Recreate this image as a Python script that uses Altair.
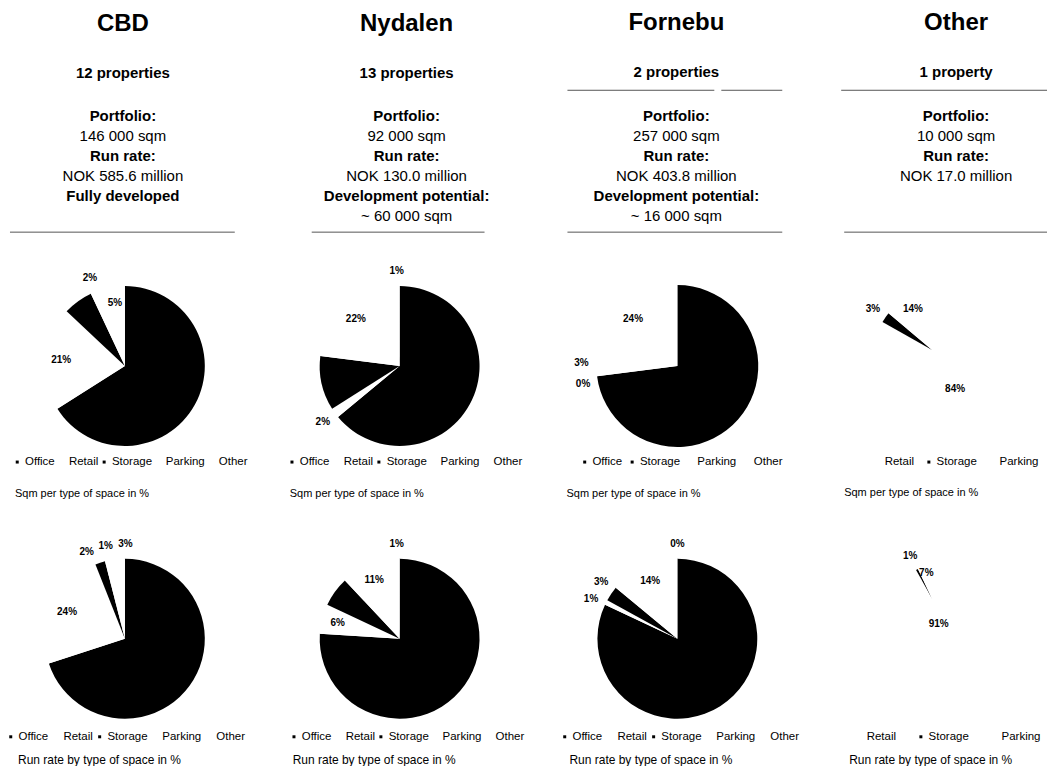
import altair as alt
import pandas as pd

FONT = "Liberation Sans"

# ---------------- data ----------------
regions = ["CBD", "Nydalen", "Fornebu", "Other"]
property_counts = ["12 properties", "13 properties", "2 properties", "1 property"]
portfolio_sqm = ["146 000 sqm", "92 000 sqm", "257 000 sqm", "10 000 sqm"]
run_rates = ["NOK 585.6 million", "NOK 130.0 million", "NOK 403.8 million", "NOK 17.0 million"]
development_heads = ["Fully developed", "Development potential:", "Development potential:", ""]
development_values = ["", "~ 60 000 sqm", "~ 16 000 sqm", ""]

sqm_categories = [
    ["Office", "Retail", "Storage", "Parking", "Other"],
    ["Office", "Retail", "Storage", "Parking", "Other"],
    ["Office", "Storage", "Parking", "Other"],
    ["Retail", "Storage", "Parking"],
]
sqm_shares = [
    [66, 21, 6, 2, 5],
    [64, 2, 11, 22, 1],
    [73, 0, 3, 24],
    [84, 3, 14],
]
run_categories = [
    ["Office", "Retail", "Storage", "Parking", "Other"],
    ["Office", "Retail", "Storage", "Parking", "Other"],
    ["Office", "Retail", "Storage", "Parking", "Other"],
    ["Retail", "Storage", "Parking"],
]
run_shares = [
    [70, 24, 2, 1, 3],
    [76, 6, 6, 11, 1],
    [82, 1, 3, 14, 0],
    [91, 1, 7],
]
captions = ["Sqm per type of space in %", "Run rate by type of space in %"]

# ---------------- styling / layout ----------------
SPACE_COLORS = {"Office": "black", "Retail": "white", "Storage": "black",
                "Parking": "white", "Other": "white"}
COL_W = [240, 276, 246, 230]
HEAD_H = 99
HEAD_DX = [-2, 7, -1, 24]
HEAD_TITLE_OFFSET = [28, 28, 9.5, 9.5]
HEAD_RULES = [
    [(5.8, 5, 230)],
    [(5.8, 50, 223)],
    [(-1.3, 13, 160), (-1.3, 167, 228), (5.8, 13, 228)],
    [(-1.3, 24, 230), (5.8, 27, 230)],
]
# pie panel heights and radii (sqm, run)
PIE_H = [(244, 244), (244, 244), (244, 244), (212, 164)]
PIE_R = [(80, 80), (80, 80), (81, 80), (57, 33)]
# legend x, legend y, column padding  (sqm, run)
LEG = [
    [(6.5, 212, 0), (0, 214, 1)],
    [(24.5, 212, 0), (26.5, 214, 0)],
    [(24.5, 212, 3.5), (4.5, 214, 1)],
    [(54, 212, 9), (36, 214, 19)],
]
# caption dx, offset (sqm, run)
CAP = [
    [(10, 0), (13, -6)],
    [(28, 0), (31, -6)],
    [(12, 0), (15, -6)],
    [(27, 19.5), (32, 12)],
]
CAP_SIZE = [11, 12]
GAP = 0.21  # min angular separation of outside labels (radians)


def header_panel(i):
    lines = ["Portfolio:", portfolio_sqm[i], "Run rate:",
             run_rates[i], development_heads[i], development_values[i]]
    kinds = ["bold", "plain", "bold", "plain", "bold", "plain"]
    df = pd.DataFrame({"text": lines, "kind": kinds, "row": list(range(len(lines)))})
    y = alt.Y("row:Q", scale=alt.Scale(domain=[0, 8], range=[0, 160], nice=False), axis=None)
    base = alt.Chart(df)
    bold = base.transform_filter("datum.kind == 'bold'").mark_text(
        font=FONT, fontSize=15, fontWeight="bold", color="black", dx=HEAD_DX[i]
    ).encode(y=y, text="text:N")
    plain = base.transform_filter("datum.kind == 'plain'").mark_text(
        font=FONT, fontSize=15, color="black", dx=HEAD_DX[i]
    ).encode(y=y, text="text:N")
    layers = [bold, plain]
    one = pd.DataFrame({"k": [0]})
    for (r, a, b) in HEAD_RULES[i]:
        layers.append(
            alt.Chart(one).mark_rule(color="#555555", strokeWidth=1).encode(
                y=alt.datum(r), x=alt.value(a), x2=alt.value(b)
            )
        )
    return alt.layer(*layers).properties(
        width=COL_W[i], height=HEAD_H,
        title=alt.TitleParams(
            regions[i], subtitle=property_counts[i],
            fontSize=24, fontWeight="bold", font=FONT, color="black",
            subtitleFont=FONT, subtitleFontSize=15, subtitleFontWeight="bold",
            subtitleColor="black", subtitlePadding=30,
            anchor="middle", dx=HEAD_DX[i], offset=HEAD_TITLE_OFFSET[i],
        ),
    )


def pie_panel(i, j, cats, shares):
    R = PIE_R[i][j]
    lx, ly, cp = LEG[i][j]
    cdx, coff = CAP[i][j]
    df = pd.DataFrame({"category": cats, "share": shares, "k": list(range(len(cats)))})
    base = alt.Chart(df).transform_joinaggregate(
        total="sum(share)"
    ).transform_window(
        cum="sum(share)", sort=[alt.SortField("k")], frame=[None, 0]
    ).transform_calculate(
        a0="2*PI*(datum.cum - datum.share)/datum.total",
        a1="2*PI*datum.cum/datum.total",
    ).transform_calculate(
        mid="(datum.a0 + datum.a1)/2"
    )
    arcs = base.mark_arc(outerRadius=R, innerRadius=0).encode(
        theta=alt.Theta("a0:Q", scale=None),
        theta2="a1:Q",
        color=alt.Color(
            "category:N",
            scale=alt.Scale(domain=cats, range=[SPACE_COLORS[c] for c in cats]),
            legend=alt.Legend(
                orient="none", legendX=lx, legendY=ly, direction="horizontal",
                title=None, symbolType="square", symbolSize=9, symbolStrokeWidth=0,
                labelFont=FONT, labelFontSize=11.5, labelColor="black", labelOffset=2,
                columnPadding=cp, padding=0,
            ),
        ),
    )
    labels = base.transform_calculate(
        outside="datum.share < 5 ? 1 : 0"
    ).transform_window(
        idx="row_number()", groupby=["outside"], sort=[alt.SortField("k")]
    ).transform_calculate(
        f0=f"datum.mid - datum.idx*{GAP}"
    ).transform_window(
        fmax="max(f0)", groupby=["outside"], sort=[alt.SortField("k")], frame=[None, 0]
    ).transform_window(
        bmin="min(f0)", groupby=["outside"], sort=[alt.SortField("k")], frame=[0, None]
    ).transform_calculate(
        lt=f"datum.outside ? (datum.fmax + datum.bmin)/2 + datum.idx*{GAP} : datum.mid",
        lr=f"datum.outside ? {R} + 15 : {0.8 * R}",
        label="datum.share + '%'",
    ).mark_text(font=FONT, fontSize=10, fontWeight="bold", color="black").encode(
        theta=alt.Theta("lt:Q", scale=None),
        radius=alt.Radius("lr:Q", scale=None),
        text="label:N",
    )
    return alt.layer(arcs, labels).properties(
        width=COL_W[i], height=PIE_H[i][j],
        title=alt.TitleParams(captions[j], orient="bottom", anchor="start", font=FONT,
                              fontSize=CAP_SIZE[j], fontWeight="normal", color="black",
                              dx=cdx, offset=coff),
    )


panels = [header_panel(i) for i in range(4)]
panels += [pie_panel(i, 0, sqm_categories[i], sqm_shares[i]) for i in range(4)]
panels += [pie_panel(i, 1, run_categories[i], run_shares[i]) for i in range(4)]

chart = alt.concat(
    *panels, columns=4, spacing={"row": 29, "column": 17}, bounds="flush"
).resolve_scale(color="independent").resolve_legend(color="independent").configure_view(
    stroke=None
).properties(
    background="white",
    padding={"left": 5, "right": 5, "top": 11, "bottom": 0},
)

chart.save("out.html", embed_options={"renderer": "svg", "actions": False})
